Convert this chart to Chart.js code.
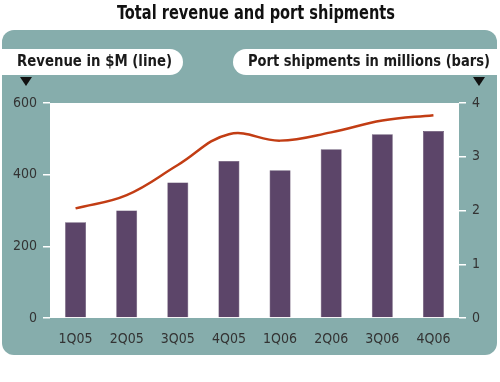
<!DOCTYPE html>
<html>
<head>
<meta charset="utf-8">
<script src="https://cdn.jsdelivr.net/npm/chart.js@4"></script>
<style>
html,body{margin:0;padding:0;background:#fff;}
#wrap{width:500px;height:382px;position:relative;}
</style>
</head>
<body>
<div id="wrap"><canvas id="c" width="500" height="382"></canvas></div>
<script>
const categories = ['1Q05','2Q05','3Q05','4Q05','1Q06','2Q06','3Q06','4Q06'];
const shipments = [1.78, 2.00, 2.52, 2.92, 2.75, 3.14, 3.42, 3.48];
const revenue = [306, 343, 427, 513, 495, 518, 551, 566];
const leftTicks = [0, 200, 400, 600];
const rightTicks = [0, 1, 2, 3, 4];
const title = 'Total revenue and port shipments';
const leftLabel = 'Revenue in $M (line)';
const rightLabel = 'Port shipments in millions (bars)';

const TEAL = '#86adac';
const NARROW = '"Liberation Sans Narrow", "DejaVu Sans Condensed", "Liberation Sans", sans-serif';

function squeezedText(ctx, text, x, y, targetWidth, align) {
  const w = ctx.measureText(text).width;
  const k = Math.min(1, targetWidth / w);
  ctx.save();
  ctx.translate(x, y);
  ctx.scale(k, 1);
  ctx.textAlign = align;
  ctx.fillText(text, 0, 0);
  ctx.restore();
}

const decor = {
  id: 'decor',
  beforeDraw(chart) {
    const ctx = chart.ctx;
    const a = chart.chartArea;
    ctx.save();
    // title
    ctx.fillStyle = '#111';
    ctx.font = 'bold 19px ' + NARROW;
    ctx.textBaseline = 'middle';
    squeezedText(ctx, title, 256, 14, 278, 'center');
    // panel
    ctx.fillStyle = TEAL;
    ctx.beginPath();
    ctx.roundRect(2, 30, 495, 325, 12);
    ctx.fill();
    // pills
    ctx.fillStyle = '#fff';
    ctx.beginPath();
    ctx.roundRect(2, 49, 181, 26, [0, 13, 13, 0]);
    ctx.fill();
    ctx.beginPath();
    ctx.roundRect(233, 49, 264, 26, [13, 0, 0, 13]);
    ctx.fill();
    ctx.fillStyle = '#1a1a1a';
    ctx.font = 'bold 15px ' + NARROW;
    squeezedText(ctx, leftLabel, 17, 62, 155, 'left');
    squeezedText(ctx, rightLabel, 490, 62, 242, 'right');
    // triangles
    ctx.fillStyle = '#111';
    ctx.beginPath();
    ctx.moveTo(20, 77); ctx.lineTo(32, 77); ctx.lineTo(26, 86); ctx.closePath();
    ctx.fill();
    ctx.beginPath();
    ctx.moveTo(473, 77); ctx.lineTo(485, 77); ctx.lineTo(479, 86); ctx.closePath();
    ctx.fill();
    // plot area
    ctx.fillStyle = '#fff';
    ctx.fillRect(a.left, a.top, a.right - a.left, a.bottom - a.top);
    ctx.restore();
  }
};

new Chart(document.getElementById('c'), {
  type: 'bar',
  data: {
    labels: categories,
    datasets: [
      {
        type: 'line',
        label: leftLabel,
        data: revenue,
        yAxisID: 'yL',
        borderColor: '#c23d14',
        borderWidth: 2.5,
        pointRadius: 0,
        tension: 0.4,
        fill: false,
        order: 0
      },
      {
        type: 'bar',
        label: rightLabel,
        data: shipments,
        yAxisID: 'yR',
        backgroundColor: '#5c4569',
        borderColor: '#4a3556',
        borderWidth: 0.5,
        barPercentage: 0.82,
        categoryPercentage: 0.5,
        order: 1
      }
    ]
  },
  options: {
    responsive: false,
    animation: false,
    events: [],
    layout: { padding: { left: 0, right: 0, top: 103, bottom: 0 } },
    plugins: { legend: { display: false }, tooltip: { enabled: false }, title: { display: false } },
    scales: {
      x: {
        offset: true,
        grid: { display: false, drawTicks: false },
        border: { display: false },
        ticks: { color: '#333', font: { family: NARROW, size: 14 }, padding: 13, maxRotation: 0, autoSkip: false },
        afterFit(s) { s.height = 64; }
      },
      yL: {
        position: 'left',
        min: 0, max: 600,
        afterBuildTicks(s) { s.ticks = leftTicks.map(v => ({ value: v })); },
        grid: { drawOnChartArea: false, drawTicks: true, tickLength: 7, color: '#ffffff', lineWidth: 1.5 },
        border: { display: false },
        ticks: { color: '#333', font: { family: NARROW, size: 14 }, padding: 6 },
        afterFit(s) { s.width = 50; }
      },
      yR: {
        position: 'right',
        min: 0, max: 4,
        afterBuildTicks(s) { s.ticks = rightTicks.map(v => ({ value: v })); },
        grid: { drawOnChartArea: false, drawTicks: true, tickLength: 7, color: '#ffffff', lineWidth: 1.5 },
        border: { display: false },
        ticks: { color: '#333', font: { family: NARROW, size: 14 }, padding: 6 },
        afterFit(s) { s.width = 41; }
      }
    }
  },
  plugins: [decor]
});
</script>
</body>
</html>
